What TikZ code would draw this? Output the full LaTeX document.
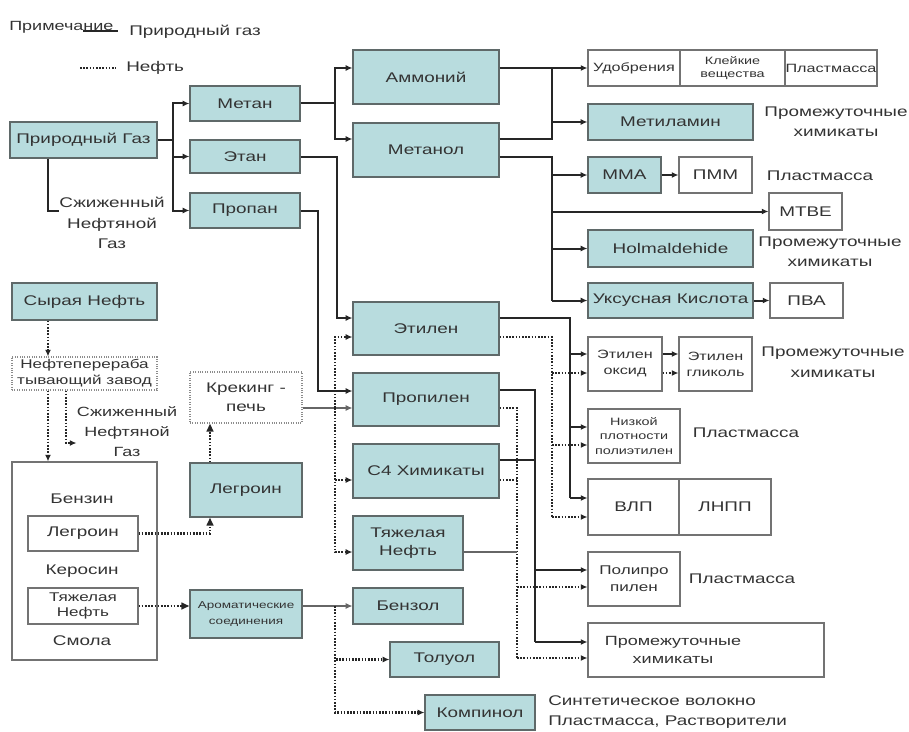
\documentclass[tikz,border=0pt]{standalone}
\usepackage{fontspec}
\setmainfont{Liberation Sans}[FakeStretch=1.35]
\usetikzlibrary{arrows.meta}
\definecolor{tealfill}{RGB}{184,220,222}
\definecolor{bord}{RGB}{95,105,105}
% \mkbox{style}{name}{x1}{y1}{x2}{y2}{text}
\newcommand\mkbox[7]{\node[#1, minimum width={(#5-#3)*0.75pt}, minimum height={(#6-#4)*0.75pt}] (#2) at ({(#3+#5)/2},{(#4+#6)/2}) {#7};}
\begin{document}
\begin{tikzpicture}[x=0.75pt,y=-0.75pt,
 every node/.style={font=\fontsize{10.5}{14}\selectfont, text=black!80},
 tbox/.style={draw=bord, line width=0.9pt, fill=tealfill, inner sep=0pt, align=center},
 wbox/.style={draw=black!55, line width=0.8pt, fill=white, inner sep=0pt, align=center},
 dbox/.style={draw=black!45, densely dotted, line width=0.8pt, inner sep=0pt, align=center},
 gas/.style={line width=1.5pt, draw=black!85},
 oil/.style={line width=1.6pt, draw=black!85, dash pattern=on 1.2pt off 1.2pt},
 thinl/.style={line width=0.8pt, draw=black!60},
 arr/.style={-{Latex[length=5pt,width=4.5pt]}},
 tri/.style={-{Triangle[length=6pt,width=5pt]}},
 lbl/.style={align=center, inner sep=0pt}
]
\fill[white] (0,0) rectangle (909,731);
\useasboundingbox (0,0) rectangle (909,731);

% ---------- legend ----------
\node[anchor=west, inner sep=0pt, font=\fontsize{10}{12}\selectfont] (leg0) at (9,27) {Примечание};
\coordinate (lga) at (83,31); \coordinate (lgb) at (118,31);
\draw[gas] (lga) -- (lgb);
\node[anchor=west, inner sep=0pt] (lgt1) at (129,32) {Природный газ};
\coordinate (lgc) at (80,68); \coordinate (lgd) at (116,68);
\draw[oil] (lgc) -- (lgd);
\node[anchor=west, inner sep=0pt] (lgt2) at (126,68) {Нефть};

% ---------- teal boxes ----------
\mkbox{tbox}{pg}{10}{122}{157}{158}{Природный Газ}
\mkbox{tbox}{metan}{190}{86}{300}{121}{Метан}
\mkbox{tbox}{etan}{190}{140}{300}{173}{Этан}
\mkbox{tbox}{propan}{190}{193}{300}{228}{Пропан}
\mkbox{tbox}{amm}{353}{50}{499}{104}{Аммоний}
\mkbox{tbox}{methanol}{353}{123}{499}{177}{Метанол}
\mkbox{tbox}{metilamin}{588}{104}{753}{140}{Метиламин}
\mkbox{tbox}{mma}{588}{157}{661}{193}{MMA}
\mkbox{tbox}{holm}{588}{230}{753}{267}{Holmaldehide}
\mkbox{tbox}{uksus}{588}{283}{753}{318}{Уксусная Кислота}
\mkbox{tbox}{syr}{12}{283}{157}{320}{Сырая Нефть}
\mkbox{tbox}{etilen}{353}{302}{499}{355}{Этилен}
\mkbox{tbox}{propilen}{353}{373}{499}{426}{Пропилен}
\mkbox{tbox}{c4}{353}{444}{499}{498}{C4 Химикаты}
\mkbox{tbox, font=\fontsize{10.5}{13}\selectfont}{tn}{353}{516}{463}{570}{Тяжелая\\Нефть}
\mkbox{tbox}{benzol}{353}{588}{463}{624}{Бензол}
\mkbox{tbox}{toluol}{390}{642}{499}{677}{Толуол}
\mkbox{tbox}{kompinol}{425}{695}{535}{730}{Компинол}
\mkbox{tbox}{leg}{190}{463}{302}{517}{Легроин}
\mkbox{tbox, font=\fontsize{7.5}{12}\selectfont}{arom}{190}{590}{302}{638}{Ароматические\\соединения}

% ---------- white boxes ----------
\mkbox{wbox, font=\fontsize{9}{10}\selectfont}{udob}{588}{50}{680}{86}{Удобрения}
\mkbox{wbox, font=\fontsize{8}{10}\selectfont}{klej}{680}{50}{785}{86}{Клейкие\\вещества}
\mkbox{wbox, font=\fontsize{9}{10}\selectfont}{plast}{785}{50}{877}{86}{Пластмасса}
\mkbox{wbox}{pmm}{679}{157}{752}{193}{ПММ}
\mkbox{wbox}{mtbe}{769}{193}{842}{230}{MTBE}
\mkbox{wbox}{pva}{770}{283}{843}{318}{ПВА}
\mkbox{wbox, font=\fontsize{9}{12}\selectfont}{eo}{588}{337}{662}{391}{Этилен\\оксид}
\mkbox{wbox, font=\fontsize{9}{12}\selectfont}{eg}{679}{337}{752}{391}{Этилен\\гликоль}
\mkbox{wbox, font=\fontsize{8}{11}\selectfont}{ldpe}{588}{409}{680}{463}{Низкой\\плотности\\полиэтилен}
\mkbox{wbox}{vlp}{588}{479}{679}{535}{ВЛП}
\mkbox{wbox}{lnpp}{679}{479}{771}{535}{ЛНПП}
\mkbox{wbox, font=\fontsize{9.5}{13}\selectfont}{pp}{588}{552}{680}{606}{Полипро\\пилен}
\mkbox{wbox}{prom}{588}{623}{824}{677}{}
\node[lbl, font=\fontsize{10}{14}\selectfont] (promt) at (673,650) {Промежуточные\\химикаты};

% big box (oil products)
\mkbox{wbox}{big}{12}{462}{157}{660}{}
\node[lbl] (benzin) at (82,499) {Бензин};
\mkbox{wbox}{legin}{28}{516}{138}{551}{Легроин}
\node[lbl] (kerosin) at (82,571) {Керосин};
\mkbox{wbox, font=\fontsize{9.5}{11}\selectfont}{tnin}{28}{588}{138}{624}{Тяжелая\\Нефть}
\node[lbl] (smola) at (82,641) {Смола};

% dotted boxes
\mkbox{dbox, font=\fontsize{9.5}{12}\selectfont}{npz}{12}{357}{157}{390}{Нефтеперераба\\тывающий завод}
\mkbox{dbox}{krek}{190}{372}{302}{423}{Крекинг -\\печь}

% ---------- free labels ----------
\node[lbl, font=\fontsize{10.5}{15.5}\selectfont] (lpg1) at (112,223) {Сжиженный\\Нефтяной\\Газ};
\node[lbl, font=\fontsize{10}{15}\selectfont] (lpg2) at (127,432) {Сжиженный\\Нефтяной\\Газ};
\node[lbl, font=\fontsize{10.5}{15}\selectfont] (pr1) at (836,122) {Промежуточные\\химикаты};
\node[lbl] (pl1) at (820,176) {Пластмасса};
\node[lbl, font=\fontsize{10.5}{15}\selectfont] (pr2) at (830,252) {Промежуточные\\химикаты};
\node[lbl, font=\fontsize{10.5}{16}\selectfont] (pr3) at (833,362) {Промежуточные\\химикаты};
\node[lbl] (pl2) at (746,433) {Пластмасса};
\node[lbl] (pl3) at (742,579) {Пластмасса};
\node[lbl, anchor=west, align=left, font=\fontsize{10.5}{15}\selectfont] (synt) at (548,712) {Синтетическое волокно\\Пластмасса, Растворители};

% ---------- gas connectors ----------
\coordinate (j1) at (173,140);
\draw[gas] (pg.east |- j1) -- (j1);
\draw[gas,arr] (j1) |- (metan.west);
\draw[gas,arr] (j1) |- (etan.west);
\draw[gas,arr] (j1) |- (propan.west);
\draw[gas] (pg.south -| 48,0) |- (lpg1.west |- 0,211);

\coordinate (j2) at (335,104);
\draw[gas] (metan.east) -- (metan.east -| j2);
\draw[gas,arr] (metan.east -| j2) |- (amm.west |- 0,68);
\draw[gas,arr] (metan.east -| j2) |- (methanol.west |- 0,139);

\coordinate (j3) at (552,68);
\draw[gas,arr] (amm.east |- udob.west) -- (udob.west);
\draw[gas] (methanol.east |- 0,139) -| (j3);
\draw[gas,arr] (metilamin.west -| j3) -- (metilamin.west);

\coordinate (j4) at (552,157);
\draw[gas] (methanol.east |- j4) -- (j4) -- (j4 |- uksus.west);
\draw[gas,arr] (mma.west -| j4) -- (mma.west);
\draw[gas,arr] (mtbe.west -| j4) -- (mtbe.west);
\draw[gas,arr] (holm.west -| j4) -- (holm.west);
\draw[gas,arr] (uksus.west -| j4) -- (uksus.west);
\draw[gas,arr] (mma) -- (pmm);
\draw[gas,arr] (uksus) -- (pva);

\coordinate (j6) at (337,318);
\draw[gas,arr] (etan.east) -| (j6) -- (etilen.west |- j6);
\coordinate (j7) at (318,391);
\draw[gas,arr] (propan.east) -| (j7) -- (propilen.west |- j7);

% ethylene group
\coordinate (e1) at (570,318);
\draw[gas] (etilen.east |- e1) -- (e1) -- (e1 |- 0,498);
\draw[gas,arr] (e1 |- 0,354) -- (eo.west |- 0,354);
\draw[gas,arr] (e1 |- 0,427) -- (ldpe.west |- 0,427);
\draw[gas,arr] (e1 |- 0,498) -- (vlp.west |- 0,498);
\coordinate (e2) at (552,337);
\draw[oil] (etilen.east |- e2) -- (e2) -- (e2 |- 0,517);
\draw[oil,arr] (e2 |- 0,373) -- (eo.west |- 0,373);
\draw[oil,arr] (e2 |- 0,445) -- (ldpe.west |- 0,445);
\draw[oil,arr] (e2 |- 0,517) -- (vlp.west |- 0,517);
\draw[gas,arr] (eo.east |- 0,354) -- (eg.west |- 0,354);
\draw[oil,arr] (eo.east |- 0,373) -- (eg.west |- 0,373);

% propylene group
\coordinate (p1) at (535,390);
\draw[gas] (propilen.east |- p1) -- (p1) -- (p1 |- 0,642);
\draw[gas] (c4.east |- 0,460) -- (p1 |- 0,460);
\draw[gas,arr] (p1 |- 0,570) -- (pp.west |- 0,570);
\draw[gas,arr] (p1 |- 0,642) -- (prom.west |- 0,642);
\coordinate (p2) at (517,408);
\draw[oil] (propilen.east |- p2) -- (p2) -- (p2 |- 0,658);
\draw[oil] (c4.east |- 0,480) -- (p2 |- 0,480);
\draw[thinl] (tn.east |- 0,552) -- (p2 |- 0,552);
\draw[oil,arr] (p2 |- 0,587) -- (pp.west |- 0,587);
\draw[oil,arr] (p2 |- 0,658) -- (prom.west |- 0,658);

% ---------- oil connectors ----------
\draw[thinl,arr] (krek.east |- 0,408) -- (propilen.west |- 0,408);
\coordinate (o1) at (335,408);
\draw[oil,arr] (o1) |- (etilen.west |- 0,337);
\draw[oil,arr] (o1) |- (tn.west |- 0,552);
\draw[oil,arr] (o1 |- 0,480) -- (c4.west |- 0,480);

\draw[thinl,arr] (arom.east |- benzol.west) -- (benzol.west);
\coordinate (o2) at (335,606);
\draw[oil,arr] (o2) |- (toluol.west);
\draw[oil,arr] (o2) |- (kompinol.west);

\draw[oil,arr] (syr.south -| 48,0) -- (npz.north -| 48,0);
\draw[oil,arr] (npz.south -| 48,0) -- (big.north -| 48,0);
\draw[oil,arr] (npz.south -| 66,0) |- (lpg2.west |- 0,443);
\draw[oil,tri] (legin.east) -| (leg.south -| 210,0);
\draw[oil,tri] (leg.north -| 210,0) -- (krek.south -| 210,0);
\draw[oil,tri] (tnin.east) -- (arom.west |- tnin.east);
\end{tikzpicture}
\end{document}
